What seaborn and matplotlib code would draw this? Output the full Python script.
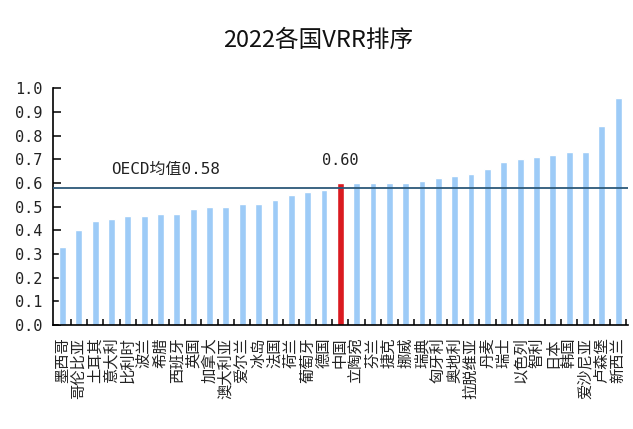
import matplotlib
matplotlib.use("Agg")
import matplotlib.pyplot as plt
from matplotlib.ticker import FixedLocator, MultipleLocator, FuncFormatter
import seaborn as sns
import pandas as pd

# 2022 VRR by country, sorted ascending
countries = ["墨西哥", "哥伦比亚", "土耳其", "意大利", "比利时", "波兰", "希腊", "西班牙",
             "英国", "加拿大", "澳大利亚", "爱尔兰", "冰岛", "法国", "荷兰", "葡萄牙",
             "德国", "中国", "立陶宛", "芬兰", "捷克", "挪威", "瑞典", "匈牙利",
             "奥地利", "拉脱维亚", "丹麦", "瑞士", "以色列", "智利", "日本", "韩国",
             "爱沙尼亚", "卢森堡", "新西兰"]
vrr = [0.33, 0.40, 0.44, 0.45, 0.46, 0.46, 0.47, 0.47,
       0.49, 0.50, 0.50, 0.51, 0.51, 0.53, 0.55, 0.56,
       0.57, 0.60, 0.60, 0.60, 0.60, 0.60, 0.61, 0.62,
       0.63, 0.64, 0.66, 0.69, 0.70, 0.71, 0.72, 0.73,
       0.73, 0.84, 0.96]
highlight = "中国"
oecd_mean = 0.58

sns.set_theme(style="white")
plt.rcParams["font.family"] = ["Noto Sans CJK SC", "DejaVu Sans"]
mono = ["DejaVu Sans Mono", "Noto Sans CJK SC"]

df = pd.DataFrame({"country": countries, "vrr": vrr})
palette = {c: ("#DA1A20" if c == highlight else "#9DCBF7") for c in countries}

fig = plt.figure(figsize=(6.33, 4.29), dpi=100)
ax = fig.add_axes([0.0845, 0.2424, 0.9075, 0.5516])

sns.barplot(data=df, x="country", y="vrr", hue="country", palette=palette,
            legend=False, width=0.42, saturation=1, ax=ax)

ax.set_xlim(-0.55, 34.6)
ax.set_ylim(0, 1.0)

# OECD average reference line
ax.axhline(oecd_mean, color="#2C5878", lw=1.3, zorder=3)
ax.text(3.0, 0.625, f"OECD均值{oecd_mean:.2f}", family=mono, fontsize=11.5,
        color="#222222", ha="left", va="bottom")

# value label on the highlighted bar
hi = countries.index(highlight)
ax.text(hi, 0.662, f"{vrr[hi]:.2f}", family=mono, fontsize=11,
        color="#222222", ha="center", va="bottom")

ax.set_xlabel("")
ax.set_ylabel("")
ax.yaxis.set_major_locator(MultipleLocator(0.1))
ax.yaxis.set_major_formatter(FuncFormatter(lambda v, p: f"{v:.1f}"))
for lab in ax.get_yticklabels():
    lab.set_family(mono)
ax.tick_params(axis="y", direction="in", length=6, width=1.1, color="black",
               labelsize=11, pad=8, left=True, labelcolor="#222222")

ax.tick_params(axis="x", which="major", length=0, pad=9, labelsize=11,
               labelrotation=90, labelcolor="#222222")
ax.xaxis.set_minor_locator(FixedLocator([i + 0.5 for i in range(len(countries))]))
ax.tick_params(axis="x", which="minor", direction="in", length=4, width=1.1,
               color="black", bottom=True)

for side in ("top", "right"):
    ax.spines[side].set_visible(False)
for side in ("left", "bottom"):
    ax.spines[side].set_color("black")
    ax.spines[side].set_linewidth(1.2)

fig.text(0.503, 0.905, "2022各国VRR排序", ha="center", va="center",
         fontsize=17, color="#111111")

fig.savefig("out.png", dpi=100, facecolor="white")
